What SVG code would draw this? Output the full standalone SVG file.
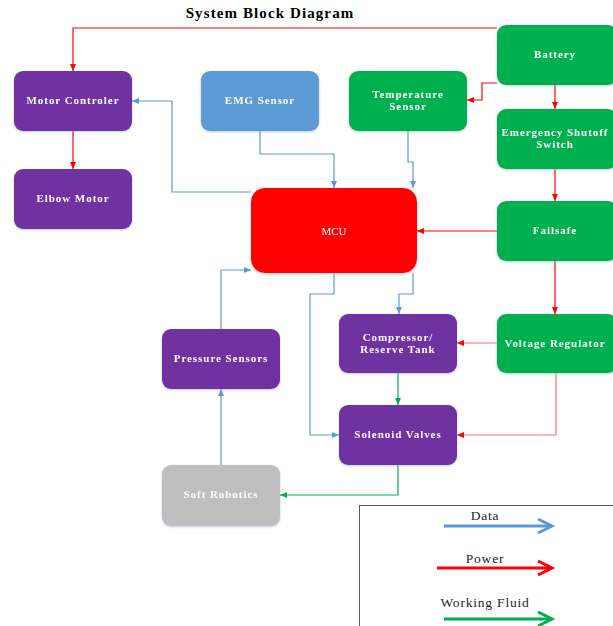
<svg xmlns="http://www.w3.org/2000/svg" width="613" height="626" viewBox="0 0 613 626">
<style>
.nt{font-family:"Liberation Serif","Times New Roman",serif;font-weight:bold;font-size:11px;fill:#fff;text-anchor:middle;letter-spacing:0.95px}
.pu{fill:#7030A0}.gr{fill:#00B050}.bl{fill:#5B9BD5}.gy{fill:#BFBFBF}.rd{fill:#FF0000}
.box{filter:url(#sh)}
.r{stroke:#FF0000;stroke-width:1.2;fill:none;marker-end:url(#ar)}
.r2{stroke:#FF6F6F;stroke-width:1.2;fill:none;marker-end:url(#ar)}
.b{stroke:#5B9BD5;stroke-width:1.2;fill:none;marker-end:url(#ab)}
.g{stroke:#00B050;stroke-width:1.2;fill:none;marker-end:url(#ag)}
.lt{font-family:"Liberation Serif","Times New Roman",serif;font-size:13.5px;fill:#262626;text-anchor:middle;letter-spacing:0.8px}
</style>
<defs>
<filter id="sh" x="-10%" y="-10%" width="120%" height="130%">
<feDropShadow dx="0" dy="1" stdDeviation="1.2" flood-color="#8fa8c8" flood-opacity="0.6"/>
</filter>
<marker id="ar" markerWidth="8" markerHeight="8" refX="7" refY="4" orient="auto" markerUnits="userSpaceOnUse"><path d="M0,1 L7,4 L0,7 Z" fill="#FF0000"/></marker>
<marker id="ab" markerWidth="8" markerHeight="8" refX="7" refY="4" orient="auto" markerUnits="userSpaceOnUse"><path d="M0,1 L7,4 L0,7 Z" fill="#5B9BD5"/></marker>
<marker id="ag" markerWidth="8" markerHeight="8" refX="7" refY="4" orient="auto" markerUnits="userSpaceOnUse"><path d="M0,1 L7,4 L0,7 Z" fill="#00B050"/></marker>
</defs>
<rect width="613" height="626" fill="#fff"/>
<text x="270" y="18" font-family="Liberation Serif,Times New Roman,serif" font-weight="bold" font-size="15" letter-spacing="1.1" text-anchor="middle" fill="#000">System Block Diagram</text>

<g id="connectors">
<path class="r" d="M497,28 H73 V71"/>
<path class="r" d="M497,83 H482 V100 H467"/>
<path class="r" d="M555,85 V109"/>
<path class="r" d="M73,131 V169"/>
<path class="r" d="M555,169 V201"/>
<path class="r" d="M497,231 H417"/>
<path class="r" d="M555,261 V314"/>
<path class="r2" d="M497,343 H457"/>
<path class="r2" d="M556,373 V435 H457"/>
<path class="b" d="M251,192 H172 V101 H132"/>
<path class="b" d="M260,131 V154 H334 V188"/>
<path class="b" d="M408,131 V162 H413 V188"/>
<path class="b" d="M221,329 V270 H251"/>
<path class="b" d="M413,273 V294 H399 V314"/>
<path class="b" d="M334,273 V294 H310 V435 H339"/>
<path class="b" d="M221,465 V389"/>
<path class="g" d="M398,373 V405"/>
<path class="g" d="M398,465 V495 H280"/>
</g>

<g id="motor-controler" class="box"><rect x="14" y="71" width="118" height="60" rx="9" class="pu"/><text class="nt" x="73" y="104">Motor Controler</text></g>
<g id="emg-sensor" class="box"><rect x="201" y="71" width="118" height="60" rx="9" class="bl"/><text class="nt" x="260" y="104">EMG Sensor</text></g>
<g id="temperature-sensor" class="box"><rect x="349" y="71" width="118" height="60" rx="9" class="gr"/><text class="nt" x="408" y="98">Temperature</text><text class="nt" x="408" y="110">Sensor</text></g>
<g id="battery" class="box"><rect x="497" y="25" width="120" height="60" rx="9" class="gr"/><text class="nt" x="555" y="58">Battery</text></g>
<g id="emergency-shutoff" class="box"><rect x="497" y="109" width="120" height="60" rx="9" class="gr"/><text class="nt" x="555" y="136">Emergency Shutoff</text><text class="nt" x="555" y="148">Switch</text></g>
<g id="elbow-motor" class="box"><rect x="14" y="169" width="118" height="60" rx="9" class="pu"/><text class="nt" x="73" y="202">Elbow Motor</text></g>
<g id="mcu" class="box"><rect x="251" y="188" width="166" height="85" rx="14" class="rd"/><text x="334" y="235" font-family="Liberation Serif,Times New Roman,serif" font-size="11" fill="#fff" text-anchor="middle">MCU</text></g>
<g id="failsafe" class="box"><rect x="497" y="201" width="120" height="60" rx="9" class="gr"/><text class="nt" x="555" y="234">Failsafe</text></g>
<g id="pressure-sensors" class="box"><rect x="162" y="329" width="118" height="60" rx="9" class="pu"/><text class="nt" x="221" y="362">Pressure Sensors</text></g>
<g id="compressor" class="box"><rect x="339" y="314" width="118" height="59" rx="9" class="pu"/><text class="nt" x="398" y="341">Compressor/</text><text class="nt" x="398" y="353">Reserve Tank</text></g>
<g id="voltage-regulator" class="box"><rect x="497" y="314" width="120" height="59" rx="9" class="gr"/><text class="nt" x="555" y="347">Voltage Regulator</text></g>
<g id="solenoid-valves" class="box"><rect x="339" y="405" width="118" height="60" rx="9" class="pu"/><text class="nt" x="398" y="438">Solenoid Valves</text></g>
<g id="soft-robotics" class="box"><rect x="162" y="465" width="118" height="61" rx="9" class="gy"/><text class="nt" x="221" y="498">Soft Robotics</text></g>

<g id="legend">
<rect x="359.5" y="505.5" width="260" height="130" fill="#fff" stroke="#595959" stroke-width="1"/>
<text class="lt" x="485" y="520">Data</text>
<path d="M444,526 H552" stroke="#5B9BD5" stroke-width="3" fill="none"/>
<path d="M538,519 L552,526 L538,533" stroke="#5B9BD5" stroke-width="3" fill="none"/>
<text class="lt" x="485" y="563">Power</text>
<path d="M437,568 H552" stroke="#FF0000" stroke-width="3" fill="none"/>
<path d="M538,561 L552,568 L538,575" stroke="#FF0000" stroke-width="3" fill="none"/>
<text class="lt" x="485" y="607">Working Fluid</text>
<path d="M444,619 H552" stroke="#00B050" stroke-width="3" fill="none"/>
<path d="M538,612 L552,619 L538,626" stroke="#00B050" stroke-width="3" fill="none"/>
</g>
</svg>
